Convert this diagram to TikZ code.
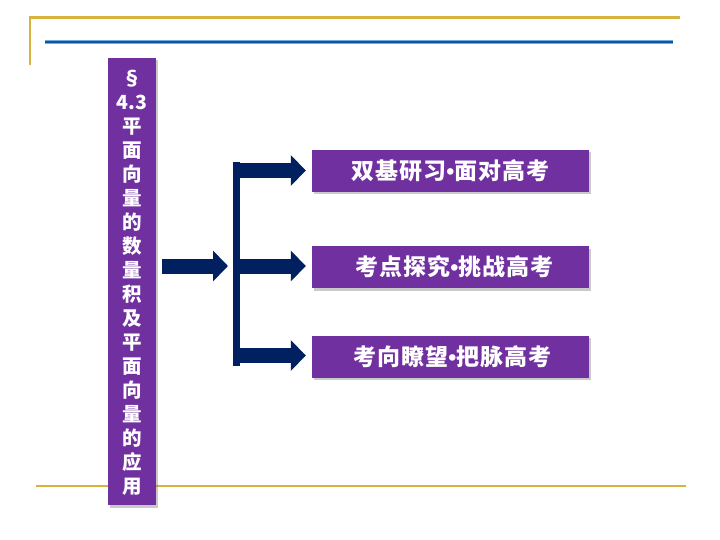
\documentclass[tikz,border=0pt]{standalone}
\usepackage{fontspec}
\newfontfamily\cjk{Noto Sans CJK SC}
\newfontfamily\cjkw{Noto Sans CJK SC}[LetterSpace=5]
\newfontfamily\lat{Liberation Sans}
\usetikzlibrary{arrows.meta,shadows}
\definecolor{gold}{RGB}{214,178,62}
\definecolor{bluel}{RGB}{120,170,215}
\definecolor{blued}{RGB}{10,88,165}
\definecolor{purp}{RGB}{112,48,160}
\definecolor{navy}{RGB}{0,32,96}
\newcommand{\bul}{{\lat\bfseries •}}
\tikzset{
  purplebox/.style={fill=purp, draw=none, inner sep=0pt, text=white,
    drop shadow={shadow xshift=2pt, shadow yshift=-2.5pt, opacity=0.35, fill=black!60}},
  blockarrow/.style={draw=navy, line width=15pt, -{Triangle[length=15pt,width=30pt]}},
  barline/.style={draw=navy, line width=7pt},
}
\begin{document}
\begin{tikzpicture}[x=1pt,y=-1pt]
\useasboundingbox (0,0) rectangle (720,540);
% decorative lines
\draw[gold, line width=2.2pt] (30,65) -- (30,17.5) -- (680,17.5);
\draw[bluel, line width=3.8pt] (45,42) -- (673,42);
\draw[blued, line width=2.4pt] (45,42) -- (673,42);
\draw[gold, line width=2.2pt] (36,486) -- (686,486);
% left title box
\node[purplebox, minimum width=48pt, minimum height=447pt] (title) at (132,281.5) {};
\node[text=white, align=center, inner sep=0pt, font=\cjk\bfseries\fontsize{19.5}{24}\selectfont] (ttl) at (132,283)
 {§\\4.3\\平\\面\\向\\量\\的\\数\\量\\积\\及\\平\\面\\向\\量\\的\\应\\用};
% right boxes
\tikzset{rbox/.style={purplebox, minimum width=277pt, minimum height=42pt,
   font=\cjkw\bfseries\fontsize{23}{23}\selectfont}}
\node[rbox] (b1) at (450.5,171) {双基研习\bul 面对高考};
\node[rbox] (b2) at (450.5,267) {\hspace{8pt}考点探究\bul 挑战高考};
\node[rbox] (b3) at (450.5,356.5) {\hspace{4pt}考向瞭望\bul 把脉高考};
% bar
\coordinate (bt) at (236.5,162);
\coordinate (bb) at (236.5,366);
\draw[barline] (bt) -- (bb);
\coordinate (j1) at (236.5,170.5);
\coordinate (j2) at (236.5,266);
\coordinate (j3) at (236.5,355.5);
% arrows
\draw[blockarrow] (title.east |- j2) ++(6,0) coordinate (a0) -- ([xshift=-8.5pt]j2);
\draw[blockarrow] (j1) -- ([xshift=-6pt]b1.west |- j1);
\draw[blockarrow] (j2) -- ([xshift=-6pt]b2.west |- j2);
\draw[blockarrow] (j3) -- ([xshift=-6pt]b3.west |- j3);
\end{tikzpicture}
\end{document}
